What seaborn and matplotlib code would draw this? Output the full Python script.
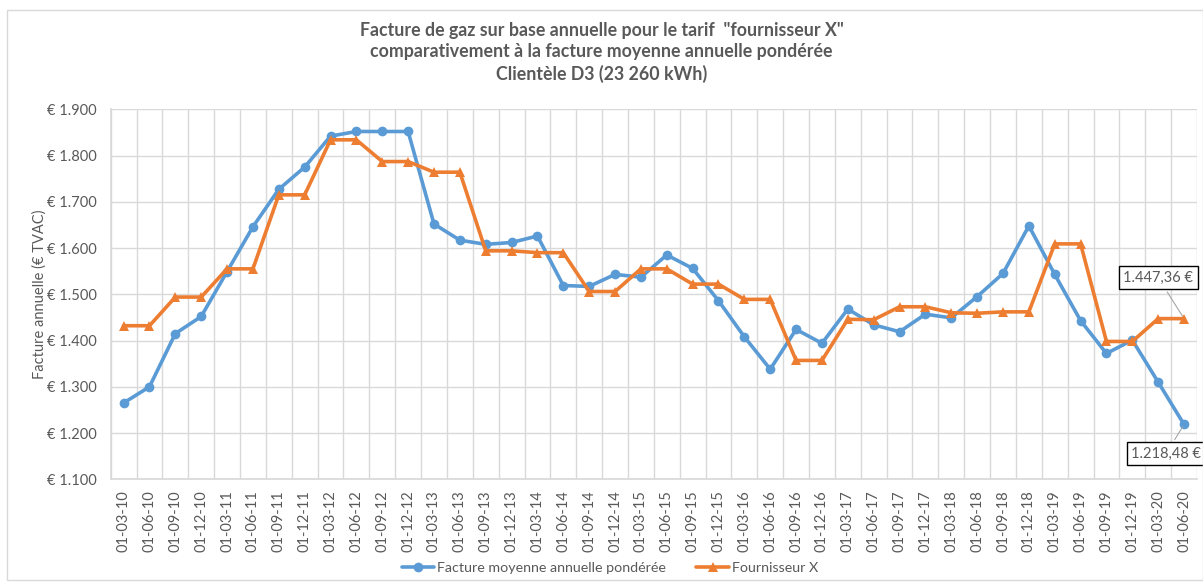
import matplotlib
matplotlib.use("Agg")
import matplotlib.pyplot as plt
import matplotlib.ticker as mticker
from matplotlib.patches import Rectangle
import pandas as pd
import seaborn as sns

# Quarterly reference dates (01-MM-YY)
dates = [
    "01-03-10", "01-06-10", "01-09-10", "01-12-10",
    "01-03-11", "01-06-11", "01-09-11", "01-12-11",
    "01-03-12", "01-06-12", "01-09-12", "01-12-12",
    "01-03-13", "01-06-13", "01-09-13", "01-12-13",
    "01-03-14", "01-06-14", "01-09-14", "01-12-14",
    "01-03-15", "01-06-15", "01-09-15", "01-12-15",
    "01-03-16", "01-06-16", "01-09-16", "01-12-16",
    "01-03-17", "01-06-17", "01-09-17", "01-12-17",
    "01-03-18", "01-06-18", "01-09-18", "01-12-18",
    "01-03-19", "01-06-19", "01-09-19", "01-12-19",
    "01-03-20", "01-06-20",
]

# Weighted average annual bill (EUR incl. VAT)
moyenne = [
    1265, 1300, 1415, 1452, 1549, 1646, 1727, 1775,
    1842, 1852, 1852, 1852, 1652, 1617, 1608, 1612,
    1626, 1519, 1517, 1543, 1537, 1585, 1556, 1486,
    1408, 1338, 1424, 1394, 1468, 1434, 1419, 1457,
    1449, 1495, 1545, 1648, 1543, 1443, 1372, 1401,
    1310, 1218.48,
]

# Annual bill for supplier X (EUR incl. VAT)
fournisseur = [
    1432, 1432, 1494, 1494, 1555, 1555, 1715, 1715,
    1834, 1834, 1787, 1787, 1764, 1764, 1594, 1594,
    1590, 1590, 1506, 1506, 1555, 1555, 1522, 1522,
    1489, 1489, 1357, 1357, 1446, 1445, 1473, 1473,
    1460, 1459, 1462, 1462, 1609, 1609, 1398, 1398,
    1447.36, 1447.36,
]

serie_moy = "Facture moyenne annuelle pondérée"
serie_four = "Fournisseur X"

df = pd.DataFrame({
    "idx": list(range(len(dates))) * 2,
    "valeur": moyenne + fournisseur,
    "serie": [serie_moy] * len(dates) + [serie_four] * len(dates),
})

sns.set_theme(style="white")
plt.rcParams["font.family"] = ["Lato", "DejaVu Sans"]

TXT = "#595959"
GRID = "#d9d9d9"
BLUE = "#5B9BD5"
ORANGE = "#ED7D31"

fig = plt.figure(figsize=(12.03, 5.82), dpi=100)
ax = fig.add_axes([0.092, 0.1765, 0.903, 0.6357])

sns.lineplot(
    data=df, x="idx", y="valeur", hue="serie", style="serie",
    palette={serie_moy: BLUE, serie_four: ORANGE},
    markers={serie_moy: "o", serie_four: "^"},
    dashes=False, linewidth=2.6, markersize=7, markeredgewidth=0,
    ax=ax, legend=True,
)

ax.set_xlim(-0.5, len(dates) - 0.5)
ax.set_ylim(1100, 1900)
ax.yaxis.set_major_locator(mticker.MultipleLocator(100))
ax.yaxis.set_major_formatter(
    mticker.FuncFormatter(lambda v, p: "€ " + f"{v:,.0f}".replace(",", "."))
)
ax.set_xticks(range(len(dates)))
ax.set_xticklabels(dates, rotation=90)
ax.xaxis.set_minor_locator(mticker.FixedLocator([i + 0.5 for i in range(-1, len(dates))]))
ax.grid(which="major", axis="y", color=GRID, linewidth=1)
ax.grid(which="minor", axis="x", color=GRID, linewidth=1)
ax.set_axisbelow(True)
ax.tick_params(axis="both", which="both", length=0, colors=TXT, labelsize=10.5)
ax.tick_params(axis="x", pad=8)
ax.tick_params(axis="y", pad=10)

for s in ["top", "right"]:
    ax.spines[s].set_visible(False)
ax.spines["left"].set_color(GRID)
ax.spines["bottom"].set_color(GRID)

ax.set_xlabel("")
ax.set_ylabel("Facture annuelle (€ TVAC)", color=TXT, fontsize=10.5, labelpad=0)

fig.text(
    0.5, 0.962,
    'Facture de gaz sur base annuelle pour le tarif  "fournisseur X"\n'
    "comparativement à la facture moyenne annuelle pondérée\n"
    "Clientèle D3 (23 260 kWh)",
    ha="center", va="top", fontsize=12.8, fontweight="bold", color=TXT,
    linespacing=1.3,
)

# Value callouts for the last quarter
def fmt_eur(v):
    s = f"{v:,.2f}"
    s = s.replace(",", " ").replace(".", ",").replace(" ", ".")
    return s + " €"

last = len(dates) - 1
ax.annotate(
    fmt_eur(fournisseur[last]), xy=(last, fournisseur[last]),
    xytext=(40.0, 1536), ha="center", va="center",
    fontsize=10.5, color=TXT,
    bbox=dict(boxstyle="square,pad=0.3", fc="white", ec="black", lw=1),
    arrowprops=dict(arrowstyle="-", color="#a6a6a6", lw=0.8),
)
ax.annotate(
    fmt_eur(moyenne[last]), xy=(last, moyenne[last]),
    xytext=(40.3, 1155), ha="center", va="center",
    fontsize=10.5, color=TXT,
    bbox=dict(boxstyle="square,pad=0.3", fc="white", ec="black", lw=1),
    arrowprops=dict(arrowstyle="-", color="#a6a6a6", lw=0.8),
    annotation_clip=False,
)

handles, labels = ax.get_legend_handles_labels()
ax.legend_.remove()
leg = fig.legend(
    handles, labels, loc="center", bbox_to_anchor=(0.507, 0.024), ncol=2,
    frameon=False, fontsize=10.3, handlelength=2.3, columnspacing=2.1,
    handletextpad=0.2,
)
for t in leg.get_texts():
    t.set_color(TXT)

fig.add_artist(Rectangle((0.006, 0.004), 0.994, 0.978, transform=fig.transFigure,
                         fill=False, ec=GRID, lw=1))

fig.savefig("out.png", dpi=100, facecolor="white")
